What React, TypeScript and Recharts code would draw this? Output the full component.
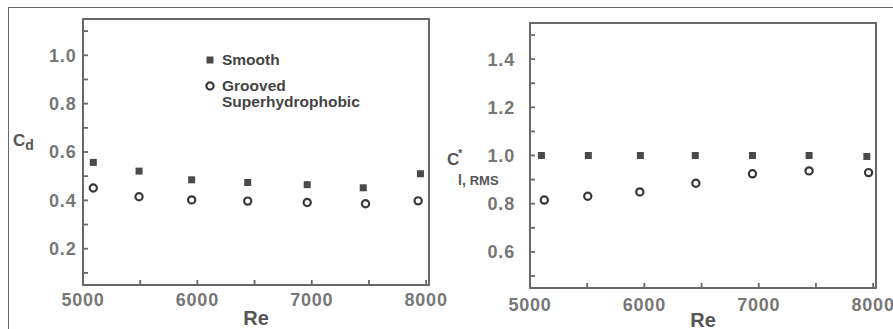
import React from "react";
import { ScatterChart, Scatter, XAxis, YAxis, Legend, Label, ReferenceArea } from "recharts";

// Re axis
const reDomain = [5000, 8025];
const reTicks = [5000, 5500, 6000, 6500, 7000, 7500, 8000];

const seriesNames = ["Smooth", "Grooved Superhydrophobic"];

// left panel: drag coefficient
const cdDomain = [0.05, 1.15];
const cdTicks = [0.1, 0.2, 0.3, 0.4, 0.5, 0.6, 0.7, 0.8, 0.9, 1.0, 1.1];
const cdSmoothRe = [5090, 5490, 5950, 6440, 6960, 7450, 7950];
const cdSmooth = [0.557, 0.521, 0.485, 0.474, 0.465, 0.452, 0.51];
const cdGroovedRe = [5090, 5490, 5950, 6440, 6960, 7470, 7930];
const cdGrooved = [0.451, 0.415, 0.402, 0.397, 0.391, 0.386, 0.398];

// right panel: rms lift coefficient
const clDomain = [0.45, 1.55];
const clTicks = [0.5, 0.6, 0.7, 0.8, 0.9, 1.0, 1.1, 1.2, 1.3, 1.4, 1.5];
const clSmoothRe = [5100, 5510, 5965, 6445, 6945, 7440, 7945];
const clSmooth = [1.0, 1.0, 1.0, 1.0, 1.0, 1.0, 0.996];
const clGroovedRe = [5125, 5505, 5960, 6450, 6945, 7440, 7960];
const clGrooved = [0.815, 0.831, 0.849, 0.885, 0.924, 0.936, 0.929];

const toPoints = (xs: number[], ys: number[]) => xs.map((re, i) => ({ re, v: ys[i] }));

const AXIS = "#686868";
const TICK_TEXT = { fill: "#777", fontSize: 18, fontWeight: 700, letterSpacing: 0.8 };
const FONT = "'Liberation Sans', Arial, sans-serif";

const Square = (p: any) => (
  <rect x={p.cx - 3.5} y={p.cy - 3.5} width={7} height={7} fill="#4a4a4a" />
);
const Ring = (p: any) => (
  <circle cx={p.cx} cy={p.cy} r={3.6} fill="#fff" stroke="#383838" strokeWidth={2.2} />
);

const reLabel = (v: number) => (v % 1000 === 0 ? String(v) : "");
const evenTenth = (v: number) => (Math.round(v * 10) % 2 === 0 ? v.toFixed(1) : "");
const blank = () => "";

function LegendBox({ payload }: any) {
  const items = [...(payload || [])].sort(
    (a: any, b: any) => seriesNames.indexOf(a.value) - seriesNames.indexOf(b.value)
  );
  return (
    <div style={{ fontFamily: FONT, fontWeight: 700, fontSize: 15.5, color: "#444" }}>
      {items.map((item: any, i: number) => (
        <div key={item.value} style={{ display: "flex", alignItems: "flex-start", marginTop: i ? 10 : 0 }}>
          <svg width={14} height={16}>
            {item.value === seriesNames[0] ? <Square cx={6} cy={8} /> : <Ring cx={6} cy={8} />}
          </svg>
          <div style={{ marginLeft: 4, lineHeight: "16px" }}>
            {String(item.value)
              .split(" ")
              .map((w: string) => (
                <div key={w}>{w}</div>
              ))}
          </div>
        </div>
      ))}
    </div>
  );
}

type PanelProps = {
  width: number;
  margin: { top: number; right: number; bottom: number; left: number };
  bottomHeight: number;
  xTickMargin: number;
  yTickMargin: number;
  yDomain: number[];
  yTicks: number[];
  smooth: { re: number; v: number }[];
  grooved: { re: number; v: number }[];
  yLabel: (vb: any) => React.ReactNode;
  reOffset: number;
  legend?: boolean;
};

function Panel(p: PanelProps) {
  return (
    <ScatterChart width={p.width} height={329} margin={p.margin} style={{ fontFamily: FONT }}>
      <XAxis
        xAxisId="b"
        dataKey="re"
        type="number"
        domain={reDomain}
        ticks={reTicks}
        tickFormatter={reLabel}
        tickSize={-5}
        tickMargin={p.xTickMargin}
        height={p.bottomHeight}
        stroke={AXIS}
        strokeWidth={1.8}
        tick={TICK_TEXT}
        interval={0}
      >
        <Label
          value="Re"
          position="insideBottom"
          offset={p.reOffset}
          style={{ fill: "#555", fontSize: 20, fontWeight: 700 }}
        />
      </XAxis>
      <XAxis
        xAxisId="t"
        orientation="top"
        type="number"
        domain={reDomain}
        ticks={reTicks}
        tickFormatter={blank}
        tickSize={-5}
        height={5}
        stroke={AXIS}
        strokeWidth={1.8}
        interval={0}
      />
      <YAxis
        yAxisId="l"
        dataKey="v"
        type="number"
        domain={p.yDomain}
        ticks={p.yTicks}
        tickFormatter={evenTenth}
        tickSize={-5}
        tickMargin={p.yTickMargin}
        width={60}
        stroke={AXIS}
        strokeWidth={1.8}
        tick={TICK_TEXT}
        interval={0}
      >
        <Label content={(lp: any) => p.yLabel(lp.viewBox)} />
      </YAxis>
      <YAxis
        yAxisId="r"
        orientation="right"
        type="number"
        domain={p.yDomain}
        ticks={p.yTicks}
        tickFormatter={blank}
        tickSize={-5}
        width={5}
        stroke={AXIS}
        strokeWidth={1.8}
        interval={0}
      />
      {/* frame of the plot area */}
      <ReferenceArea
        xAxisId="b"
        yAxisId="l"
        x1={reDomain[0]}
        x2={reDomain[1]}
        y1={p.yDomain[0]}
        y2={p.yDomain[1]}
        fill="none"
        stroke={AXIS}
        strokeWidth={1.8}
        ifOverflow="visible"
      />
      {p.legend && (
        <Legend
          layout="vertical"
          align="center"
          verticalAlign="middle"
          content={<LegendBox />}
          wrapperStyle={{ left: 204, top: 52, width: 180 }}
        />
      )}
      <Scatter
        name={seriesNames[0]}
        data={p.smooth}
        xAxisId="b"
        yAxisId="l"
        shape={Square}
        isAnimationActive={false}
      />
      <Scatter
        name={seriesNames[1]}
        data={p.grooved}
        xAxisId="b"
        yAxisId="l"
        shape={Ring}
        isAnimationActive={false}
      />
    </ScatterChart>
  );
}

const cdLabel = (vb: any) => (
  <text x={vb.x - 10} y={146} fill="#555" fontWeight={700}>
    <tspan fontSize={17}>C</tspan>
    <tspan fontSize={14} dy={4}>d</tspan>
  </text>
);

const clLabel = (vb: any) => (
  <g fill="#555" fontWeight={700}>
    <text x={vb.x - 23} y={165} fontSize={17}>C</text>
    <text x={vb.x - 12} y={157} fontSize={11}>*</text>
    <text x={vb.x - 12} y={185} fontSize={14}>
      l, <tspan fontSize={13}>RMS</tspan>
    </text>
  </g>
);

export default function App() {
  return (
    <div style={{ position: "absolute", left: 0, top: 0, width: 893, height: 329, background: "#fff", overflow: "hidden" }}>
      <div
        style={{
          position: "absolute",
          left: 8,
          top: 7,
          right: 0,
          bottom: 0,
          borderTop: `1.5px solid ${AXIS}`,
          borderLeft: `1.5px solid ${AXIS}`,
        }}
      />
      <div style={{ position: "absolute", left: 0, top: 0 }}>
        <Panel
          width={455}
          margin={{ top: 14, right: 21, bottom: 0, left: 23 }}
          bottomHeight={44}
          xTickMargin={13}
          yTickMargin={11.5}
          yDomain={cdDomain}
          yTicks={cdTicks}
          smooth={toPoints(cdSmoothRe, cdSmooth)}
          grooved={toPoints(cdGroovedRe, cdGrooved)}
          yLabel={cdLabel}
          reOffset={4}
          legend
        />
      </div>
      <div style={{ position: "absolute", left: 446, top: 0 }}>
        <Panel
          width={447}
          margin={{ top: 18, right: 12, bottom: 0, left: 24 }}
          bottomHeight={41}
          xTickMargin={15}
          yTickMargin={20}
          yDomain={clDomain}
          yTicks={clTicks}
          smooth={toPoints(clSmoothRe, clSmooth)}
          grooved={toPoints(clGroovedRe, clGrooved)}
          yLabel={clLabel}
          reOffset={2}
        />
      </div>
    </div>
  );
}
